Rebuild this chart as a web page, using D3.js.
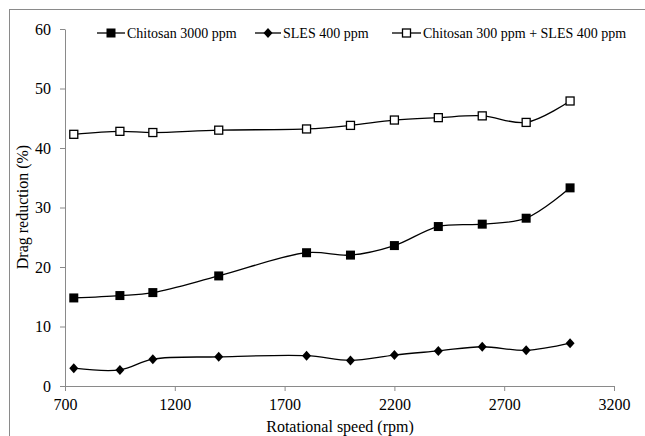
<!DOCTYPE html>
<html><head><meta charset="utf-8">
<script src="https://cdn.jsdelivr.net/npm/d3@7"></script>
<style>
html,body{margin:0;padding:0;background:#fff;}
svg{display:block;}
</style></head>
<body><svg id="c" width="645" height="436"></svg>
<script>
const rpm = [740, 950, 1100, 1400, 1800, 2000, 2200, 2400, 2600, 2800, 3000];
const chitosan3000 = [14.8, 15.2, 15.7, 18.5, 22.4, 22.0, 23.6, 26.8, 27.2, 28.2, 33.3];
const sles400 = [3.0, 2.7, 4.5, 4.9, 5.1, 4.3, 5.2, 5.9, 6.6, 6.0, 7.2];
const combined = [42.3, 42.8, 42.6, 43.0, 43.2, 43.8, 44.7, 45.1, 45.4, 44.3, 47.9];
const seriesNames = ["Chitosan 3000 ppm", "SLES 400 ppm", "Chitosan 300 ppm + SLES 400 ppm"];
const xTicks = [700, 1200, 1700, 2200, 2700, 3200];
const yTicks = [0, 10, 20, 30, 40, 50, 60];
const xTitle = "Rotational speed (rpm)";
const yTitle = "Drag reduction (%)";

const FONT = "'Liberation Serif'";
const svg = d3.select("#c");
const axisColor = "#8a8a8a";
const x = d3.scaleLinear().domain([700, 3200]).range([65, 614]);
const y = d3.scaleLinear().domain([0, 60]).range([386, 29]);

// outer border
svg.append("rect").attr("x", 9.5).attr("y", 9.5).attr("width", 700).attr("height", 600)
  .attr("fill", "none").attr("stroke", axisColor).attr("stroke-width", 1);

// axes
const xAxis = d3.axisBottom(x).tickValues(xTicks).tickFormat(d3.format("d")).tickSize(5).tickPadding(8).tickSizeOuter(0);
const gx = svg.append("g").attr("transform", "translate(0,386)").call(xAxis);
const yAxis = d3.axisLeft(y).tickValues(yTicks).tickFormat(d3.format("d")).tickSize(5).tickPadding(9).tickSizeOuter(0);
const gy = svg.append("g").attr("transform", "translate(65,0)").call(yAxis);
[gx, gy].forEach(g => {
  g.attr("font-family", null).attr("font-size", null);
  g.select(".domain").attr("stroke", axisColor);
  g.selectAll(".tick line").attr("stroke", axisColor);
  g.selectAll(".tick text").style("font-family", FONT).style("font-size", "16px").attr("fill", "#000");
});

// titles
svg.append("text").attr("x", 340).attr("y", 432).attr("text-anchor", "middle")
  .style("font-family", FONT).style("font-size", "16px").text(xTitle);
svg.append("text").attr("transform", "translate(28,207) rotate(-90)").attr("text-anchor", "middle")
  .style("font-family", FONT).style("font-size", "16px").text(yTitle);

const line = d3.line().curve(d3.curveCatmullRom.alpha(0.5))
  .x(d => x(d[0])).y(d => y(d[1]));

const data = [chitosan3000, sles400, combined];
const kinds = ["filled", "diamond", "open"];

function drawMarker(g, kind, cx, cy) {
  if (kind === "filled") {
    g.append("rect").attr("x", cx - 4.5).attr("y", cy - 4.5).attr("width", 9).attr("height", 9).attr("fill", "#000");
  } else if (kind === "open") {
    g.append("rect").attr("x", cx - 4).attr("y", cy - 4).attr("width", 8).attr("height", 8)
      .attr("fill", "#fff").attr("stroke", "#000").attr("stroke-width", 1.3);
  } else {
    g.append("path").attr("d", `M${cx},${cy - 5}L${cx + 4.5},${cy}L${cx},${cy + 5}L${cx - 4.5},${cy}Z`).attr("fill", "#000");
  }
}

data.forEach((vals, i) => {
  const pts = rpm.map((r, j) => [r, vals[j]]);
  svg.append("path").attr("d", line(pts)).attr("fill", "none").attr("stroke", "#000").attr("stroke-width", 1.3);
  const g = svg.append("g");
  pts.forEach(p => drawMarker(g, kinds[i], x(p[0]), y(p[1])));
});

// legend
const legendX = [97, 255, 392];
const legendLineW = [28, 26, 29];
seriesNames.forEach((name, i) => {
  const g = svg.append("g");
  const lx = legendX[i], ly = 33;
  g.append("line").attr("x1", lx).attr("x2", lx + legendLineW[i]).attr("y1", ly).attr("y2", ly)
    .attr("stroke", "#000").attr("stroke-width", 1.3);
  drawMarker(g, kinds[i], lx + legendLineW[i] / 2, ly);
  g.append("text").attr("x", lx + legendLineW[i] + 2).attr("y", ly).attr("dy", "0.35em")
    .style("font-family", FONT).style("font-size", "14px").text(name);
});
</script></body></html>
